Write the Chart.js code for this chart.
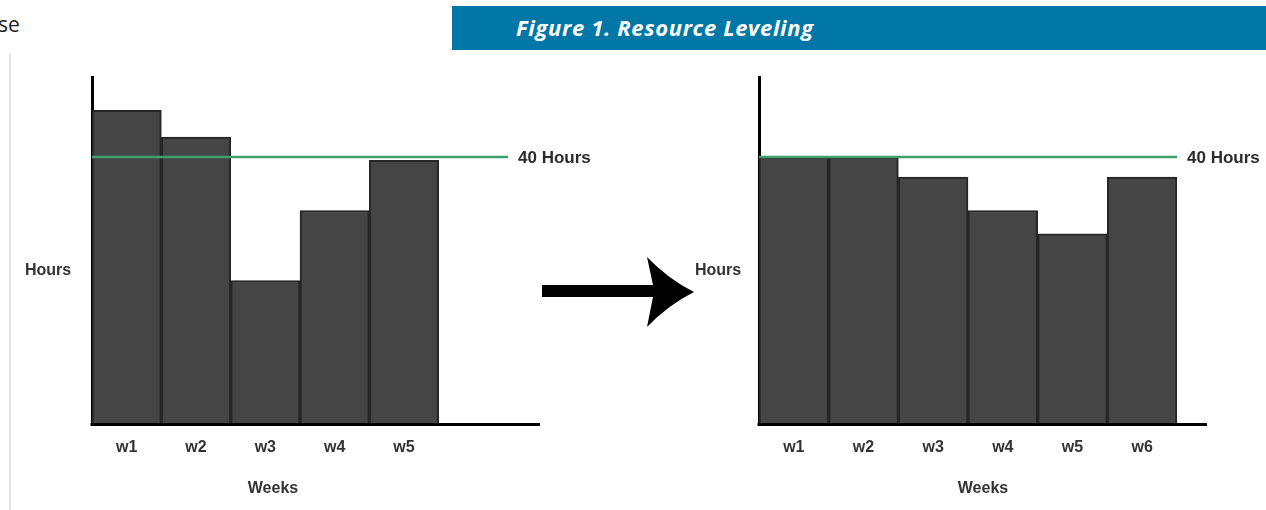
<!DOCTYPE html>
<html>
<head>
<meta charset="utf-8">
<script src="https://cdn.jsdelivr.net/npm/chart.js@4.4.1/dist/chart.umd.min.js"></script>
<style>
  html, body { margin: 0; padding: 0; background: #fff; width: 1266px; height: 510px; overflow: hidden; position: relative; font-family: "Liberation Sans", Arial, sans-serif; }
  #banner { position: absolute; left: 452px; top: 6px; width: 814px; height: 44px; background: #0077a6; }
  #banner span { position: absolute; left: 64px; top: 6px; color: #fff; font-family: "Open Sans", sans-serif; font-weight: 700; font-style: italic; font-size: 22px; letter-spacing: 0.65px; line-height: 30px; }
  #cut { position: absolute; left: -2px; top: 10px; font-family: "Open Sans", sans-serif; font-size: 21px; line-height: 28px; color: #222; }
  #edge { position: absolute; left: 9px; top: 54px; width: 2px; height: 456px; background: #e2e2e2; }
  #leftWrap { position: absolute; left: 0; top: 60px; }
  #rightWrap { position: absolute; left: 680px; top: 60px; }
  #arrow { position: absolute; left: 0; top: 0; }
</style>
</head>
<body>
<div id="cut">se</div>
<div id="banner"><span>Figure 1. Resource Leveling</span></div>
<div id="edge"></div>
<svg id="arrow" width="1266" height="510">
  <path d="M542,285 L653,285 L647,257 Q668,279 694,292 Q668,305 647,327 L653,297 L542,297 Z" fill="#000"/>
</svg>
<div id="leftWrap"><canvas id="left" width="620" height="450"></canvas></div>
<div id="rightWrap"><canvas id="right" width="586" height="450"></canvas></div>
<script>
// ---- data ----
const beforeWeeks = ['w1', 'w2', 'w3', 'w4', 'w5', ''];
const beforeHours = [47, 43, 21.5, 32, 39.5, null];
const afterWeeks = ['w1', 'w2', 'w3', 'w4', 'w5', 'w6'];
const afterHours = [40, 40, 37, 32, 28.5, 37];
const limitHours = 40;
const limitLabel = '40 Hours';
const yTitle = 'Hours';
const xTitle = 'Weeks';
const yMax = 52;

Chart.defaults.font.family = '"Liberation Sans", Arial, sans-serif';

const decor = {
  id: 'decor',
  afterDatasetsDraw(chart, args, opts) {
    const ctx = chart.ctx;
    const a = chart.chartArea;
    const y = chart.scales.y;
    ctx.save();
    // x axis line (extends past the plot)
    ctx.strokeStyle = '#000';
    ctx.lineWidth = 3;
    ctx.beginPath();
    ctx.moveTo(a.left - 1.5, a.bottom + 0.5);
    ctx.lineTo(a.right + opts.axisExt, a.bottom + 0.5);
    ctx.stroke();
    // limit line
    const ly = y.getPixelForValue(limitHours);
    ctx.strokeStyle = '#3f9f6e';
    ctx.lineWidth = 2.5;
    ctx.beginPath();
    ctx.moveTo(a.left, ly);
    ctx.lineTo(a.right, ly);
    ctx.stroke();
    ctx.fillStyle = '#2b2b2b';
    ctx.font = 'bold 17px "Liberation Sans", Arial, sans-serif';
    ctx.textBaseline = 'middle';
    ctx.textAlign = 'left';
    ctx.fillText(limitLabel, a.right + 10, ly + 1);
    // axis titles
    ctx.font = 'bold 16px "Liberation Sans", Arial, sans-serif';
    ctx.fillStyle = '#333';
    ctx.textAlign = 'center';
    ctx.fillText(yTitle, a.left - opts.yTitleOff, (a.top + a.bottom) / 2 + 20);
    ctx.fillText(xTitle, a.left + opts.xTitleOff, a.bottom + 65);
    ctx.restore();
  }
};

function makeChart(id, labels, values, yWidth, padRight, axisExt, yTitleOff, xTitleOff) {
  return new Chart(document.getElementById(id), {
    type: 'bar',
    data: {
      labels: labels,
      datasets: [{
        data: values,
        backgroundColor: '#454545',
        borderColor: '#262626',
        borderWidth: 2,
        categoryPercentage: 1,
        barPercentage: 1
      }]
    },
    options: {
      responsive: false,
      animation: false,
      layout: { padding: { top: 17, right: padRight, left: 0, bottom: 0 } },
      plugins: {
        legend: { display: false },
        tooltip: { enabled: false },
        decor: { axisExt: axisExt, yTitleOff: yTitleOff, xTitleOff: xTitleOff }
      },
      scales: {
        x: {
          grid: { display: false },
          border: { display: false },
          ticks: { color: '#333', font: { size: 16, weight: 'bold' }, padding: 6, maxRotation: 0 },
          afterFit: s => { s.height = 86; }
        },
        y: {
          min: 0, max: yMax,
          grid: { display: false },
          border: { display: true, color: '#000', width: 3 },
          ticks: { display: false },
          afterFit: s => { s.width = yWidth; }
        }
      }
    },
    plugins: [decor]
  });
}

makeChart('left', beforeWeeks, beforeHours, 92, 112, 32, 44, 181);
makeChart('right', afterWeeks, afterHours, 79, 89, 30, 41, 224);
</script>
</body>
</html>
